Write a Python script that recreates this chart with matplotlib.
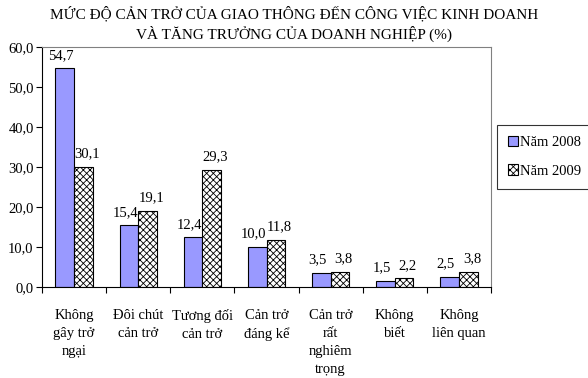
import matplotlib.pyplot as plt
import numpy as np

plt.rcParams['font.family'] = ['Liberation Serif', 'DejaVu Serif']
plt.rcParams['hatch.linewidth'] = 0.6

categories = ['Không\ngây trở\nngại', 'Đôi chút\ncản trở', 'Tương đối\ncản trở',
              'Cản trở\nđáng kể', 'Cản trở\nrất\nnghiêm\ntrọng', 'Không\nbiết',
              'Không\nliên quan']
nam_2008 = [54.7, 15.4, 12.4, 10.0, 3.5, 1.5, 2.5]
nam_2009 = [30.1, 19.1, 29.3, 11.8, 3.8, 2.2, 3.8]
series_names = ['Năm 2008', 'Năm 2009']

fig = plt.figure(figsize=(5.88, 3.78), dpi=100)
ax = fig.add_axes([42/588, 1 - 287/378, (491-42)/588, (287-47)/378])

x = np.arange(len(categories))
w = 0.29
b1 = ax.bar(x - w/2, nam_2008, w, color='#9999FF', edgecolor='black', linewidth=0.8,
            label=series_names[0])
b2 = ax.bar(x + w/2, nam_2009, w, color='white', edgecolor='black', linewidth=0.8,
            hatch='xxxxx', label=series_names[1])

def fmt(v):
    return f'{v:.1f}'.replace('.', ',')

# value labels above each bar
for bars, vals, dx in [(b1, nam_2008, -0.06), (b2, nam_2009, 0.06)]:
    for bar, v in zip(bars, vals):
        ax.text(bar.get_x() + bar.get_width()/2 + dx, v + 1.6, fmt(v),
                ha='center', va='bottom', fontsize=10.5)

ax.set_xlim(-0.5, len(categories) - 0.5)
ax.set_ylim(0, 60)
ax.set_yticks(np.arange(0, 61, 10))
ax.set_yticklabels([fmt(t) for t in np.arange(0, 61, 10)], fontsize=10.5)
ax.set_xticks(np.arange(-0.5, len(categories), 1))
ax.set_xticklabels([])
ax.set_xticks(x, minor=True)
ax.set_xticklabels(categories, minor=True, fontsize=10.5, linespacing=1.5, va='top')
ax.tick_params(axis='x', which='minor', length=0, pad=16)
ax.tick_params(axis='x', which='major', length=4, direction='out')
ax.tick_params(axis='y', length=4, direction='out', pad=2)

for s in ['top', 'right']:
    ax.spines[s].set_color('#808080')
for s in ['left', 'bottom']:
    ax.spines[s].set_color('black')

fig.text(0.5, 1 - 24/378, 'MỨC ĐỘ CẢN TRỞ CỦA GIAO THÔNG ĐẾN CÔNG VIỆC KINH DOANH\nVÀ TĂNG TRƯỞNG CỦA DOANH NGHIỆP (%)',
         ha='center', va='center', fontsize=11, linespacing=1.4)

leg = fig.legend(handles=[b1, b2], loc='upper left', bbox_to_anchor=(497/588, 1 - 125/378),
                 fontsize=10.5, frameon=True, fancybox=False, edgecolor='black',
                 handlelength=0.7, handleheight=0.7, handletextpad=0.1,
                 labelspacing=1.05, borderpad=0.75, borderaxespad=0)
leg.get_frame().set_linewidth(0.8)

plt.savefig('out.png', dpi=100)
